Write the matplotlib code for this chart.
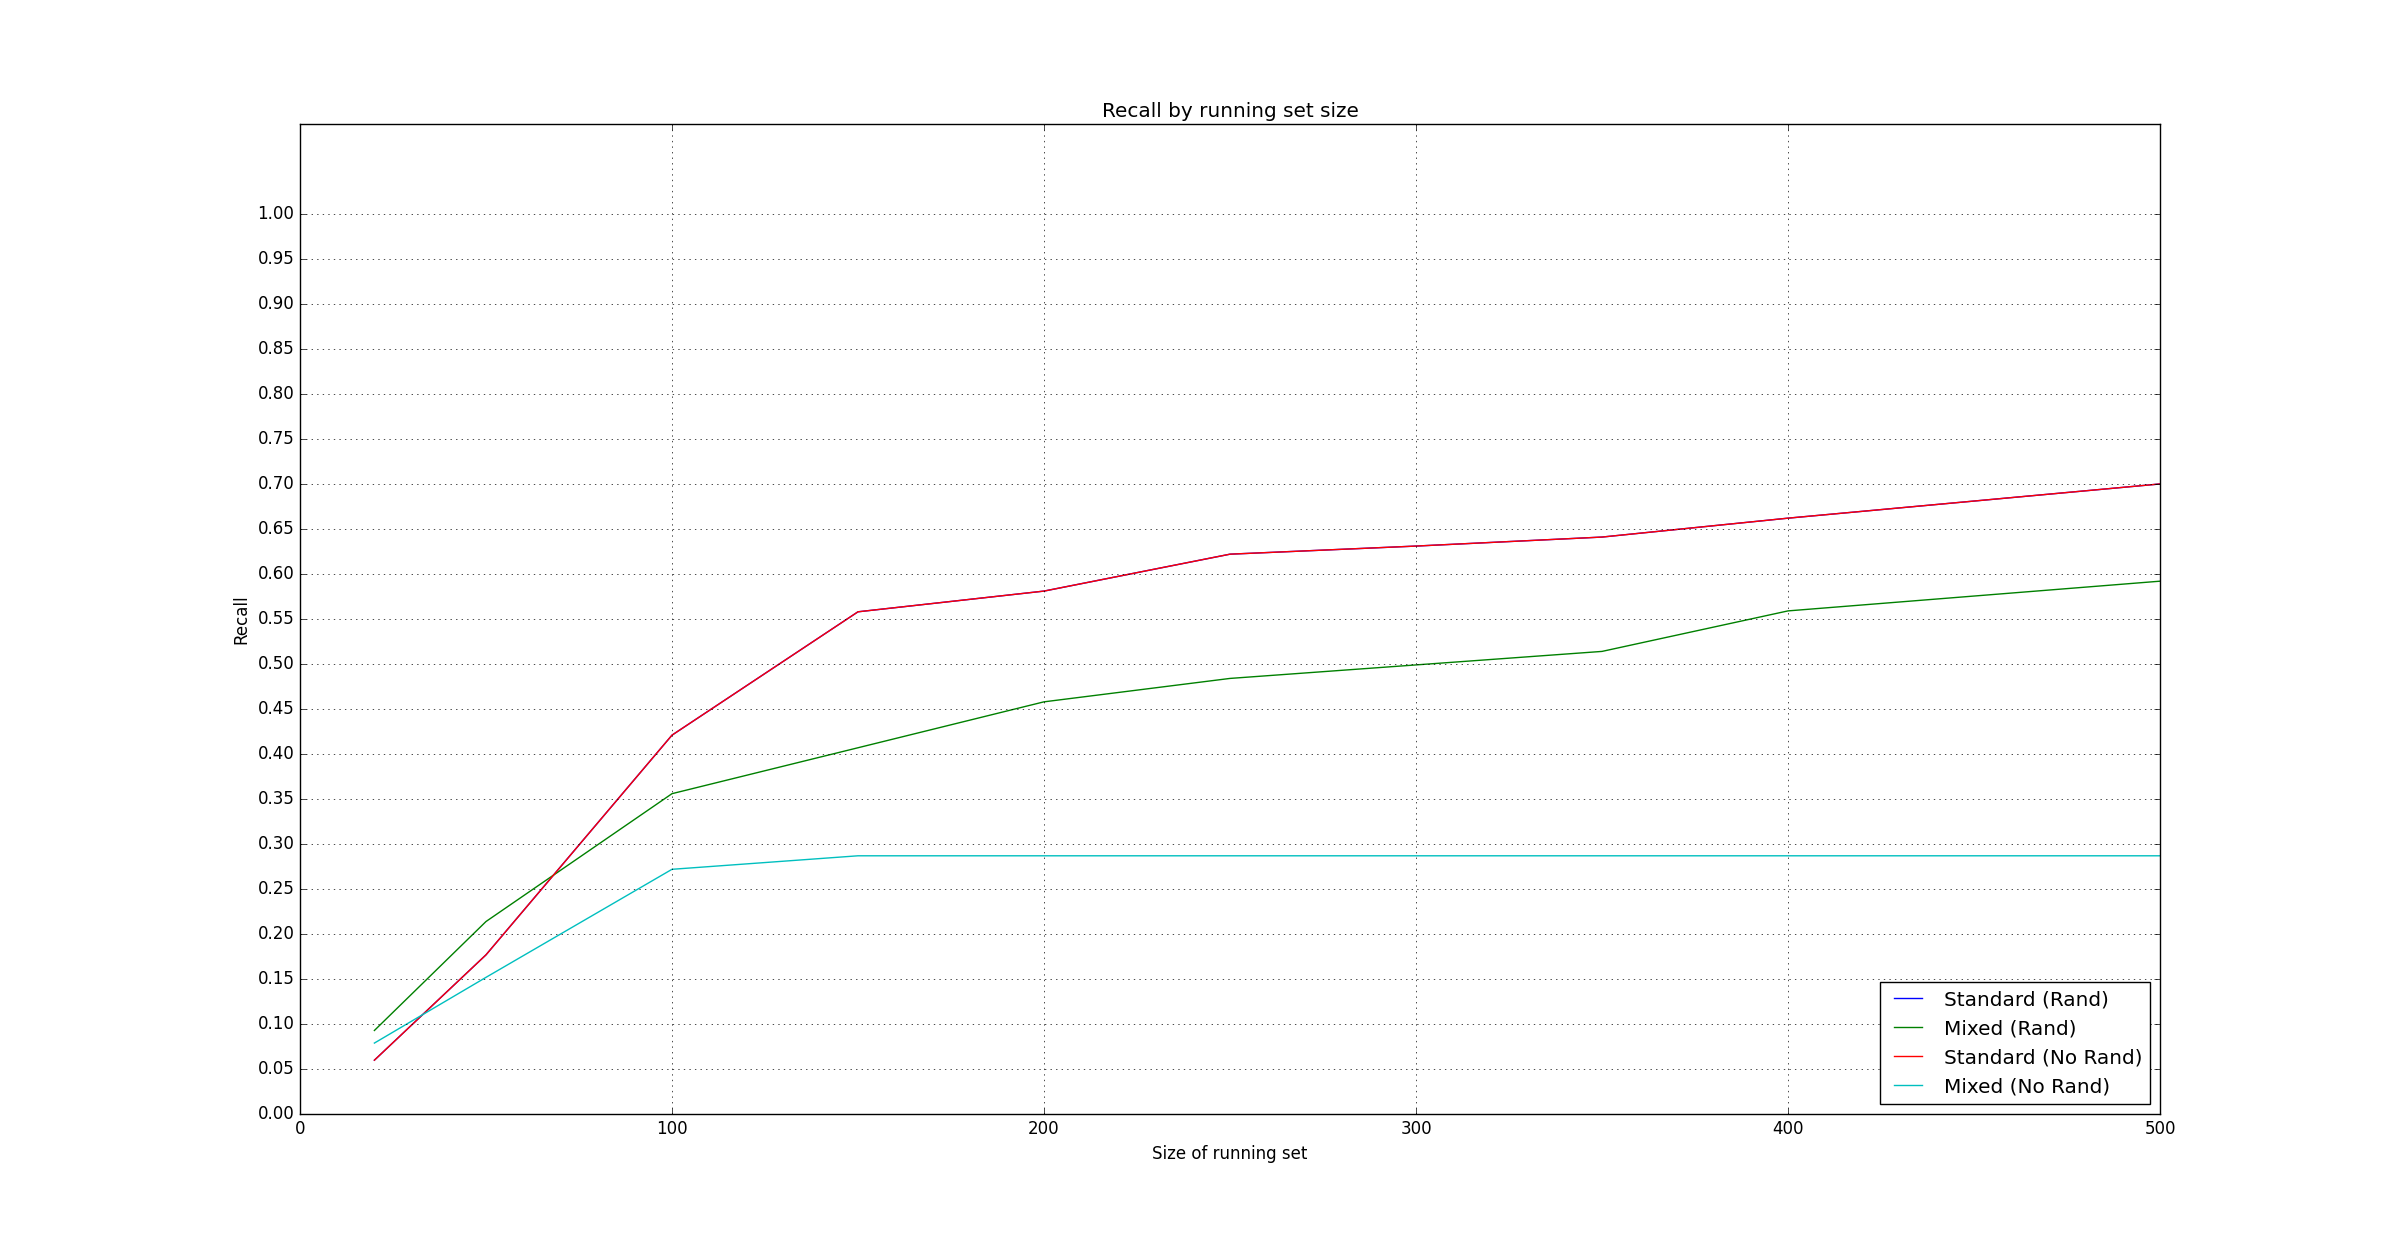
import matplotlib
matplotlib.use("Agg")
import matplotlib.pyplot as plt
import numpy as np

plt.style.use('classic')

# running set sizes and recall
set_sizes = [20, 50, 100, 150, 200, 250, 300, 350, 400, 500]
standard_rand = [0.060, 0.177, 0.421, 0.558, 0.581, 0.622, 0.631, 0.641, 0.662, 0.700]
mixed_rand = [0.093, 0.214, 0.356, 0.407, 0.458, 0.484, 0.499, 0.514, 0.559, 0.592]
standard_norand = [0.060, 0.177, 0.421, 0.558, 0.581, 0.622, 0.631, 0.641, 0.662, 0.700]
mixed_norand = [0.079, 0.152, 0.272, 0.287, 0.287, 0.287, 0.287, 0.287, 0.287, 0.287]

fig = plt.figure(figsize=(24, 12.38), dpi=100, facecolor='white')
ax = fig.add_subplot(111)

ax.plot(set_sizes, standard_rand, 'b', label='Standard (Rand)')
ax.plot(set_sizes, mixed_rand, 'g', label='Mixed (Rand)')
ax.plot(set_sizes, standard_norand, 'r', label='Standard (No Rand)')
ax.plot(set_sizes, mixed_norand, 'c', label='Mixed (No Rand)')

ax.set_xlim(0, 500)
ax.set_ylim(0, 1.1)
ax.set_yticks(np.arange(0, 1.01, 0.05))
ax.grid(True)

ax.set_title("Recall by running set size")
ax.set_xlabel("Size of running set")
ax.set_ylabel("Recall")
ax.legend(loc='lower right')

fig.savefig("out.png", dpi=100, facecolor='white')
